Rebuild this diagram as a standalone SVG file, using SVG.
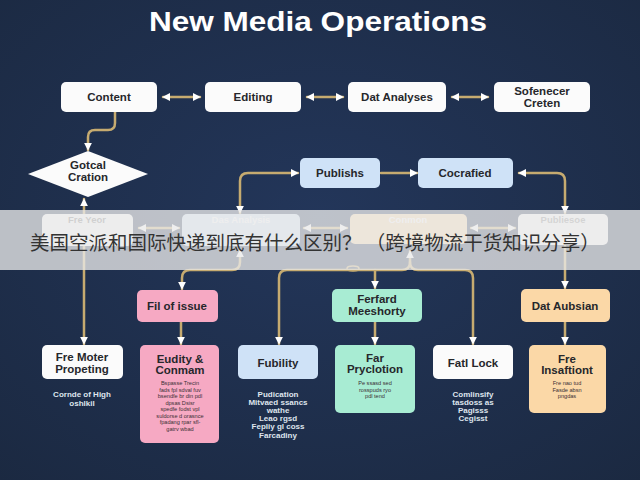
<svg xmlns="http://www.w3.org/2000/svg" width="640" height="480" viewBox="0 0 640 480">
<defs>
<radialGradient id="bg" cx="50%" cy="45%" r="75%">
<stop offset="0" stop-color="#23365a"/>
<stop offset="1" stop-color="#1b2941"/>
</radialGradient>
<marker id="ah" viewBox="0 0 10 10" refX="9" refY="5" markerWidth="8" markerHeight="8" markerUnits="userSpaceOnUse" orient="auto-start-reverse">
<path d="M0,0 L10,5 L0,10 z" fill="#ffffff"/>
</marker>
<style>
.c{fill:none;stroke:#c6ab70;stroke-width:2.5;stroke-linecap:round}
.d{marker-start:url(#ah);marker-end:url(#ah)}
.e{marker-end:url(#ah)}
.t{font-family:"Liberation Sans",Arial,sans-serif;font-weight:bold;font-size:11.5px;fill:#26272b;text-anchor:middle}
.m{font-family:"Liberation Sans",Arial,sans-serif;font-weight:bold;font-size:9.5px;text-anchor:middle}
.s{font-family:"Liberation Sans",Arial,sans-serif;font-size:5.6px;fill:#3a2f35;text-anchor:middle}
.cap{font-family:"Liberation Sans",Arial,sans-serif;font-weight:bold;font-size:8px;fill:#dfe5ee;text-anchor:middle}
.w{fill:#fbfbfb}
.b{fill:#cfe2f7}
.p{fill:#f6a9c3}
.g{fill:#a8ecd3}
.o{fill:#fbd8a7}
</style>
</defs>
<rect width="640" height="480" fill="url(#bg)"/>
<text x="318" y="31" font-family="Liberation Sans,Arial,sans-serif" font-weight="bold" font-size="27" fill="#ffffff" text-anchor="middle" textLength="338" lengthAdjust="spacingAndGlyphs">New Media Operations</text>

<g id="connectors">
<path class="c d" d="M163,97 H200"/>
<path class="c d" d="M307,97 H343"/>
<path class="c d" d="M452,97 H488"/>
<path class="c e" d="M115,112 V123 Q115,130 108,130 H95 Q88,130 88,137 V150"/>
<path class="c d" d="M84,199 V344"/>
<path class="c d" d="M240,213 V181 Q240,173 248,173 H298"/>
<path class="c e" d="M381,173 H417"/>
<path class="c d" d="M519,173 H557 Q565,173 565,181 V213"/>
<path class="c e" d="M565,246 V288"/>
<path class="c d" d="M139,228 H179"/>
<path class="c d" d="M304,228 H347"/>
<path class="c d" d="M471,228 H515"/>
<path class="c d" d="M240,250 V262 Q240,270 232,270 H190 Q182,270 182,278 V289"/>
<path class="c d" d="M410,251 V262 Q410,270 402,270 H287 Q279,270 279,278 V344"/>
<path class="c e" d="M410,262 Q410,270 418,270 H465 Q473,270 473,278 V344"/>
<path class="c e" d="M375,270 V288"/>
<ellipse cx="353" cy="268.5" rx="6" ry="2.5" fill="none" stroke="#c6ab70" stroke-width="1.5"/>
<path class="c e" d="M181,322 V344"/>
<path class="c e" d="M375,322 V344"/>
<path class="c e" d="M565,322 V344"/>
</g>

<g id="content"><rect class="w" x="61" y="82" width="96" height="30" rx="5"/><text class="t" x="109" y="101">Content</text></g>
<g id="editing"><rect class="w" x="205" y="82" width="96" height="30" rx="5"/><text class="t" x="253" y="101">Editing</text></g>
<g id="dat-analyses"><rect class="w" x="348" y="82" width="98" height="30" rx="5"/><text class="t" x="397" y="101">Dat Analyses</text></g>
<g id="sofenecer"><rect class="w" x="494" y="82" width="96" height="30" rx="5"/><text class="t" x="542" y="95">Sofenecer</text><text class="t" x="542" y="107">Creten</text></g>

<g id="gotcal"><polygon class="w" points="28,174 88,151 148,174 88,197"/><text class="t" x="88" y="169">Gotcal</text><text class="t" x="88" y="181">Cration</text></g>

<g id="publishs"><rect class="b" x="300" y="158" width="80" height="30" rx="5"/><text class="t" x="340" y="177">Publishs</text></g>
<g id="cocrafied"><rect class="b" x="418" y="158" width="95" height="30" rx="5"/><text class="t" x="465" y="177">Cocrafied</text></g>

<g id="fre-yeor"><rect class="w" x="42" y="214" width="91" height="32" rx="5"/><text class="m" x="87" y="223" fill="#777777">Fre Yeor</text></g>
<g id="das-analysis"><rect class="b" x="182" y="214" width="118" height="32" rx="5"/><text class="m" x="241" y="223" fill="#ffffff">Das Analysis</text></g>
<g id="conmon"><rect class="o" x="350" y="214" width="117" height="30" rx="5"/><text class="m" x="408" y="223" fill="#ffffff">Conmon</text></g>
<g id="publiesoe"><rect class="w" x="518" y="214" width="90" height="31" rx="5"/><text class="m" x="563" y="223" fill="#8a8a8a">Publiesoe</text></g>

<g id="fil-of-issue"><rect class="p" x="137" y="290" width="81" height="32" rx="5"/><text class="t" x="177" y="310">Fil of issue</text></g>
<g id="ferfard"><rect class="g" x="332" y="289" width="90" height="33" rx="5"/><text class="t" x="377" y="303">Ferfard</text><text class="t" x="377" y="315">Meeshorty</text></g>
<g id="dat-aubsian"><rect class="o" x="521" y="289" width="89" height="33" rx="5"/><text class="t" x="565" y="310">Dat Aubsian</text></g>

<g id="fre-moter"><rect class="w" x="42" y="345" width="81" height="34" rx="5"/><text class="t" x="82" y="361">Fre Moter</text><text class="t" x="82" y="373">Propeting</text>
<text class="cap" x="82" y="397">Cornde of High</text><text class="cap" x="82" y="406">oshlkil</text></g>

<g id="eudity"><rect class="p" x="140" y="345" width="79" height="98" rx="5"/><text class="t" x="180" y="363">Eudity &amp;</text><text class="t" x="180" y="374">Conmam</text>
<text class="s" x="180" y="385">Bspasse Trecin</text>
<text class="s" x="180" y="391.5">fads fpl sdval fuv</text>
<text class="s" x="180" y="398">bsendfe br din pdl</text>
<text class="s" x="180" y="404.5">dpsas Dsisr</text>
<text class="s" x="180" y="411">spedfe fodst vpl</text>
<text class="s" x="180" y="417.5">suldorse d orasnce</text>
<text class="s" x="180" y="424">fpadang rpar sfl-</text>
<text class="s" x="180" y="430.5">gatrv wbad</text></g>

<g id="fubility"><rect class="b" x="238" y="345" width="80" height="34" rx="5"/><text class="t" x="278" y="367">Fubility</text>
<text class="cap" x="278" y="397">Pudication</text>
<text class="cap" x="278" y="405">Mitvaed ssancs</text>
<text class="cap" x="278" y="413">wathe</text>
<text class="cap" x="278" y="421">Leao rgsd</text>
<text class="cap" x="278" y="429">Fepliy gl coss</text>
<text class="cap" x="278" y="438">Farcadiny</text></g>

<g id="far-pryclotion"><rect class="g" x="335" y="345" width="80" height="68" rx="5"/><text class="t" x="375" y="362">Far</text><text class="t" x="375" y="373">Pryclotion</text>
<text class="s" x="375" y="385">Pe ssasd sed</text>
<text class="s" x="375" y="391.5">rosspuds ryo</text>
<text class="s" x="375" y="398">pdl tend</text></g>

<g id="fatl-lock"><rect class="w" x="433" y="345" width="80" height="34" rx="5"/><text class="t" x="473" y="367">Fatl Lock</text>
<text class="cap" x="473" y="397">Comlinsify</text>
<text class="cap" x="473" y="405">tasdoss as</text>
<text class="cap" x="473" y="413">Pagisss</text>
<text class="cap" x="473" y="421">Cegisst</text></g>

<g id="fre-insaftiont"><rect class="o" x="529" y="345" width="77" height="68" rx="5"/><text class="t" x="567" y="363">Fre</text><text class="t" x="567" y="374">Insaftiont</text>
<text class="s" x="567" y="385">Fre nao tud</text>
<text class="s" x="567" y="391.5">Fasde absn</text>
<text class="s" x="567" y="398">pngdas</text></g>

<g id="banner">
<rect x="0" y="210" width="640" height="60" fill="#e9e9e9" fill-opacity="0.78"/>
<text x="30" y="250" font-family="Noto Sans CJK SC,sans-serif" font-size="19.5" fill="#333333">美国空派和国际快递到底有什么区别？ （跨境物流干货知识分享）</text>
</g>
</svg>
